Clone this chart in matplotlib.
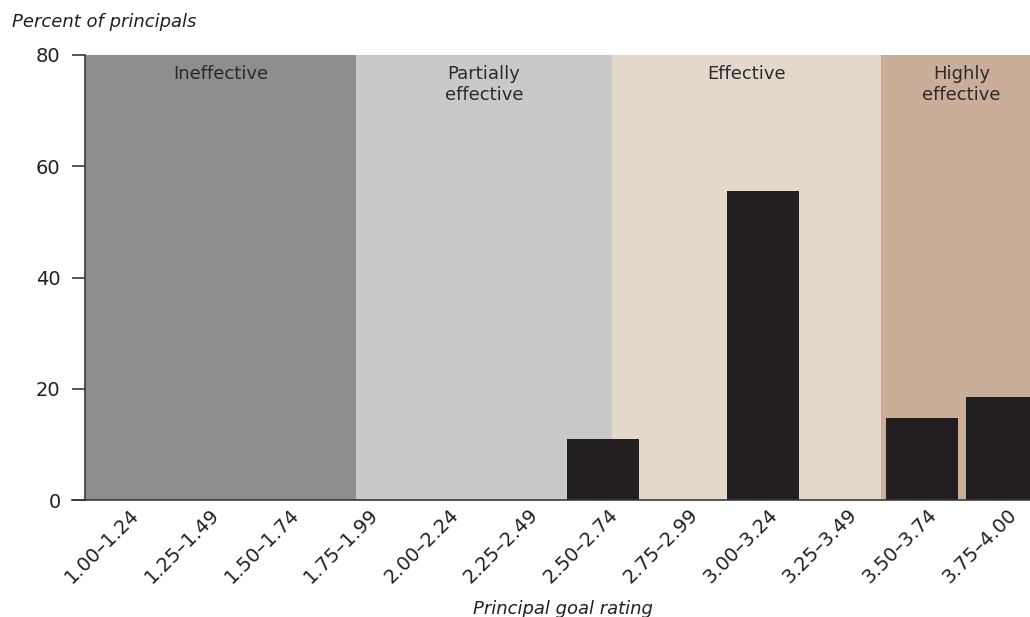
import matplotlib
matplotlib.use("Agg")
import matplotlib.pyplot as plt
import matplotlib.transforms as mtransforms
import numpy as np

# Veriler
categories = ["1.00–1.24", "1.25–1.49", "1.50–1.74", "1.75–1.99", "2.00–2.24", "2.25–2.49",
              "2.50–2.74", "2.75–2.99", "3.00–3.24", "3.25–3.49", "3.50–3.74", "3.75–4.00"]
percent = [0, 0, 0, 0, 0, 0, 11, 0, 55.5, 0, 14.8, 18.5]

band_labels = ["Ineffective", "Partially\neffective", "Effective", "Highly\neffective"]
band_edges = [-0.5, 2.9, 6.11, 9.485, 11.5]
band_colors = ["#8f8d8e", "#c8c9cb", "#e4d7cc", "#cbae99"]

text_color = "#231f20"
plt.rcParams["font.family"] = ["DejaVu Sans"]

fig = plt.figure(figsize=(10.30, 6.17), dpi=100)
ax = fig.add_axes([85 / 1030, 117 / 617, 957 / 1030, 445 / 617])

x = np.arange(len(categories))

# Arka plan bantları
for i, lab in enumerate(band_labels):
    ax.axvspan(band_edges[i], band_edges[i + 1], color=band_colors[i], lw=0, zorder=0)
    ax.text((band_edges[i] + band_edges[i + 1]) / 2, 78.2, lab, ha="center", va="top",
            fontsize=13, color="#2b2b2b", linespacing=1.2)

ax.bar(x, percent, width=0.9, color="#231f20", zorder=2)

ax.set_xlim(-0.5, 11.5)
ax.set_ylim(0, 80)
ax.set_yticks([0, 20, 40, 60, 80])
ax.set_xticks(x)
ax.set_xticklabels([])
ax.tick_params(axis="x", length=0)
ax.tick_params(axis="y", length=9.5, width=1.2, color="#3a3a3a", pad=8, labelsize=14,
               labelcolor=text_color)

# Döndürülmüş x etiketleri (biraz sağa kaydırılmış)
trans = ax.get_xaxis_transform() + mtransforms.ScaledTranslation(0.05, -0.05, fig.dpi_scale_trans)
for xi, lab in zip(x, categories):
    ax.text(xi, 0, lab, transform=trans, rotation=45, ha="right", va="top",
            rotation_mode="anchor", fontsize=14, color=text_color, clip_on=False)

for s in ["top", "right"]:
    ax.spines[s].set_visible(False)
ax.spines["left"].set_color("#3a3a3a")
ax.spines["bottom"].set_color("#3a3a3a")
ax.spines["left"].set_linewidth(1.2)
ax.spines["bottom"].set_linewidth(1.2)
ax.spines["bottom"].set_zorder(3)
# 0 çizgisini sola uzat
ax.plot([-0.66, -0.5], [0, 0], color="#3a3a3a", lw=1.2, clip_on=False)

fig.text(12 / 1030, 1 - 22 / 617, "Percent of principals", fontsize=13, style="italic",
         color=text_color, va="center", ha="left")
fig.text(563 / 1030, 1 - 609 / 617, "Principal goal rating", fontsize=13, style="italic",
         color=text_color, va="center", ha="center")

fig.savefig("out.png", dpi=100)
